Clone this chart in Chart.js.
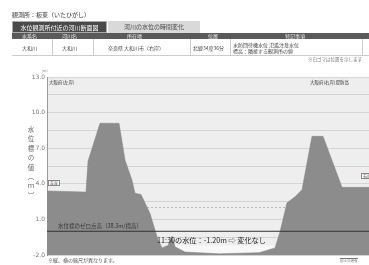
<!DOCTYPE html>
<html lang="ja">
<head>
<meta charset="UTF-8">
<title>河川断面図</title>
<style>
  body { margin: 0; width: 369px; height: 265px; overflow: hidden; background: #fff;
         font-family: "Noto Sans CJK JP", "Noto Sans", sans-serif; color: #333; }
  #wrap { position: relative; width: 369px; height: 265px; }
  #chart { position: absolute; left: 0; top: 0; }
  .t { position: absolute; white-space: nowrap; line-height: 1; }
  .title { left: 12px; top: 12px; font-size: 6px; }
  .tab { position: absolute; top: 21px; height: 12px; font-size: 6px; line-height: 12px; text-align: center; }
  .tab.on { left: 12px; width: 95px; background: #4a4a4a; color: #fff; border: 1px solid #aaa; box-sizing: border-box; }
  .tab.off { left: 108px; width: 92px; background: #d9d9d9; color: #444; }
  .thead { position: absolute; left: 12px; right: 0; top: 33px; height: 6px; background: #5a5a5a; }
  .thead span { position: absolute; top: 0; font-size: 5px; line-height: 6px; color: #eee; }
  .trow { position: absolute; left: 12px; right: 0; top: 39px; height: 16px; border-bottom: 1px solid #ccc; }
  .trow span { position: absolute; font-size: 5px; line-height: 6px; color: #444; }
  .trow i { position: absolute; top: 0; bottom: 0; width: 1px; background: #ccc; }
  .ytitle { position: absolute; left: 26px; top: 126px; writing-mode: vertical-rl; font-size: 6.5px; letter-spacing: 3px; color: #666; }
  .mark { font-size: 4px; background: #fff; border: 0.5px solid #888; padding: 0 1px; }
</style>
</head>
<body>
<div id="wrap">
  <canvas id="chart" width="369" height="265"></canvas>

  <div class="t title">観測所：板東（いたひがし）</div>
  <div class="tab on">水位観測所付近の河川断面図</div>
  <div class="tab off">河川の水位の時間変化</div>
  <div class="thead">
    <span style="left:10px">水系名</span>
    <span style="left:50px">河川名</span>
    <span style="left:115px">所在地</span>
    <span style="left:196px">位置</span>
    <span style="left:273px">特記事項</span>
  </div>
  <div class="trow">
    <i style="left:40px"></i><i style="left:81px"></i><i style="left:178px"></i><i style="left:218px"></i><i style="left:350px"></i>
    <span style="left:10px;top:6px">大和川</span>
    <span style="left:50px;top:6px">大和川</span>
    <span style="left:96px;top:6px">奈良県 大和川市（右岸）</span>
    <span style="left:181px;top:6px">北緯34度36分</span>
    <span style="left:221px;top:3px">水防団待機水位 氾濫注意水位<br>標高：隣接する観測所の値</span>
  </div>
  <div class="t" style="left:308px;top:57px;font-size:4.5px;color:#777">※白ゴマは位置を示します</div>

  <div class="t" style="left:42px;top:69px;font-size:3.5px;color:#777">(m)</div>
  <div class="ytitle">水位標の値（ｍ）</div>

  <div class="t" style="left:49px;top:80px;font-size:4.5px">大阪府(左岸)</div>
  <div class="t" style="left:310px;top:80px;font-size:4.5px">大阪府(右岸)堤防高</div>
  <div class="t mark" style="left:48px;top:180px">左岸</div>
  <div class="t mark" style="left:361px;top:173px">右岸</div>

  <div class="t" style="left:58px;top:224px;font-size:5.5px">水位標のゼロ点高（38.3m/標高）</div>
  <div class="t" style="left:157px;top:237px;font-size:7.2px;color:#222">11:30の水位：-1.20m ⇨ 変化なし</div>

  <div class="t" style="left:48px;top:257px;font-size:5px;color:#555">※縦、横の縮尺が異なります。</div>
  <div class="t" style="left:340px;top:258px;font-size:3.5px;color:#777;border-top:1px solid #777">国土交通省</div>
</div>

<script src="https://cdn.jsdelivr.net/npm/chart.js"></script>
<script>
  // cross section (distance in m from left edge, ground level in m)
  const distances = [0, 19.5, 20.5, 26.5, 36, 39, 42.5, 44, 47, 51.5, 54, 55.5, 57.5, 60.5, 62.5, 64,
                     69, 86, 106, 114, 116.5, 120, 124, 127.5, 132.5, 138, 147.5, 161];
  const groundLevels = [3.4, 3.3, 5.9, 9.1, 9.1, 6.0, 4.3, 3.2, 3.1, 1.5, 0.1, -0.7, -1.4, -1.2, -0.4, -1.3,
                        -1.75, -1.9, -1.8, -1.4, -0.05, 2.4, 2.9, 3.5, 8.0, 8.0, 3.7, 3.7];

  const waterSpan = [64, 114];
  const waterLevel = -1.2;
  const zeroLevel = 0;
  const dashLevel = 2.0;

  const yTickValues = [13, 10, 7, 4, 1, -2];
  const yTickLabels = ['13.0', '10.0', '7.0', '4.0', '1.0', '-2.0'];

  const xMax = distances[distances.length - 1];

  const plotBg = {
    id: 'plotBg',
    beforeDraw(chart) {
      const a = chart.chartArea, c = chart.ctx;
      c.save();
      c.fillStyle = '#eeeeee';
      c.fillRect(a.left, a.top, a.right - a.left, a.bottom - a.top);
      c.restore();
    }
  };

  new Chart(document.getElementById('chart'), {
    type: 'line',
    data: {
      datasets: [
        {
          data: distances.map((d, i) => ({ x: d, y: groundLevels[i] })),
          fill: 'start',
          backgroundColor: '#8c8c8c',
          borderColor: '#838383',
          borderWidth: 0.5,
          pointRadius: 0,
          order: 2
        },
        {
          data: waterSpan.map(d => ({ x: d, y: waterLevel })),
          fill: 'start',
          backgroundColor: '#f8f8f8',
          borderWidth: 0,
          pointRadius: 0,
          order: 3
        },
        {
          data: [{ x: 0, y: dashLevel }, { x: xMax, y: dashLevel }],
          borderColor: '#b8b8b8',
          borderDash: [2, 2],
          borderWidth: 1,
          pointRadius: 0,
          fill: false,
          order: 4
        },
        {
          data: [{ x: 0, y: zeroLevel }, { x: xMax, y: zeroLevel }],
          borderColor: '#333',
          borderWidth: 1,
          pointRadius: 0,
          fill: false,
          order: 0
        }
      ]
    },
    options: {
      responsive: false,
      animation: false,
      devicePixelRatio: 1,
      layout: { padding: { top: 77, bottom: 10, left: 0, right: 0 } },
      plugins: { legend: { display: false }, tooltip: { enabled: false } },
      scales: {
        x: { type: 'linear', min: 0, max: xMax, display: false },
        y: {
          min: -2, max: 13,
          afterFit(s) { s.width = 47; },
          ticks: {
            stepSize: 1.5,
            padding: 2,
            color: '#777',
            font: { size: 6, family: 'DejaVu Sans' },
            callback(v) {
              const i = yTickValues.indexOf(v);
              return i < 0 ? '' : yTickLabels[i];
            }
          },
          grid: { color: '#d4d4d4', drawTicks: false },
          border: { color: '#999' }
        }
      }
    },
    plugins: [plotBg]
  });
</script>
</body>
</html>
